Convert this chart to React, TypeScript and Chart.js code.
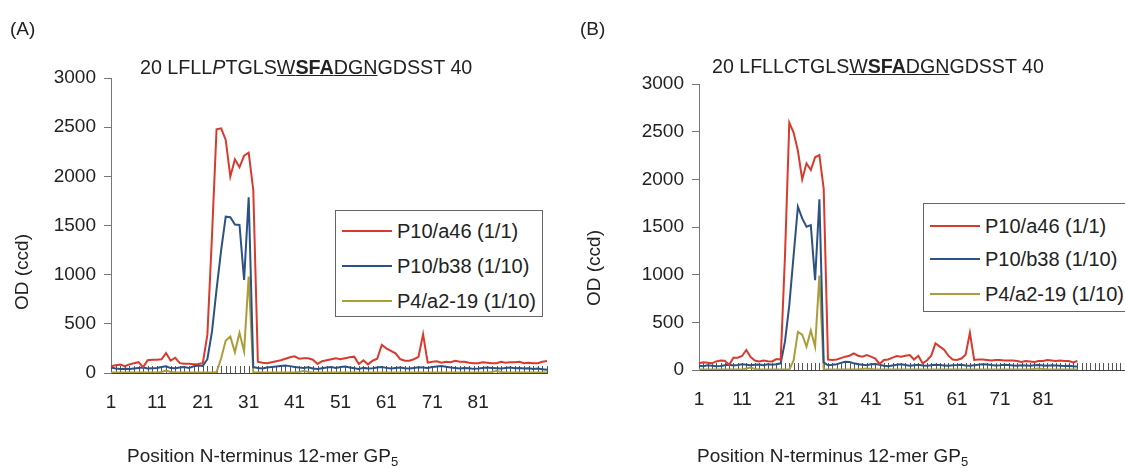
import React, { useEffect, useRef } from 'react';
import { Chart, registerables } from 'chart.js';

Chart.register(...registerables);

const FONT = '"Liberation Sans", Arial, Helvetica, sans-serif';

const seriesNames = ['P10/a46 (1/1)', 'P10/b38 (1/10)', 'P4/a2-19 (1/10)'];
const seriesColors = ['#d83a2d', '#2c5284', '#ab9e3a'];
const tickLabels = ['1', '11', '21', '31', '41', '51', '61', '71', '81'];
const yMin = 0;
const yMax = 3000;
const yStep = 500;

// Peptide positions (panel A: 96 peptides, panel B axis: 101 positions)
const positionsA = Array.from({ length: 96 }, (_, i) => String(i + 1));
const positionsB = Array.from({ length: 101 }, (_, i) => String(i + 1));

const redA = [
  68, 78, 85, 70, 88, 100, 110, 60, 130, 135,
  135, 140, 203, 125, 155, 100, 95, 95, 88, 92,
  100, 390, 1390, 2478, 2488, 2370, 1997, 2173, 2092, 2210,
  2240, 1861, 115, 105, 100, 110, 120, 130, 145, 160,
  170, 145, 150, 150, 135, 92, 120, 130, 140, 150,
  140, 150, 160, 166, 92, 130, 88, 125, 145, 285,
  250, 225, 200, 142, 125, 125, 140, 165, 393, 105,
  115, 120, 105, 115, 110, 125, 115, 115, 105, 98,
  100, 110, 105, 100, 100, 115, 105, 110, 110, 115,
  100, 105, 100, 100, 115, 122,
];
const blueA = [
  55, 45, 40, 42, 40, 45, 50, 55, 45, 48,
  52, 62, 68, 50, 48, 55, 60, 50, 68, 75,
  72, 140, 420, 850, 1250, 1590, 1585, 1510, 1505, 946,
  1787, 60, 50, 45, 55, 60, 65, 70, 75, 70,
  62, 55, 50, 58, 45, 40, 48, 55, 60, 52,
  60, 66, 55, 48, 40, 52, 45, 48, 55, 60,
  52, 45, 50, 55, 48, 45, 52, 58, 55, 50,
  60, 66, 72, 64, 55, 50, 45, 52, 48, 42,
  45, 50, 55, 52, 48, 45, 50, 55, 48, 52,
  45, 48, 40, 45, 38, 32,
];
const oliveA = [
  5, 5, 5, 5, 5, 5, 5, 5, 5, 5,
  5, 10, 25, 10, 5, 5, 5, 5, 5, 5,
  5, 5, 5, 10, 150, 330, 370, 210, 410, 220,
  980, 5, 5, 5, 5, 5, 5, 5, 5, 5,
  5, 10, 20, 10, 5, 5, 5, 5, 5, 5,
  5, 5, 5, 5, 5, 5, 5, 5, 5, 5,
  5, 5, 5, 5, 5, 5, 5, 5, 5, 5,
  5, 5, 5, 5, 5, 5, 5, 5, 5, 5,
  5, 5, 5, 10, 20, 10, 5, 5, 5, 5,
  5, 5, 5, 5, 5, 5,
];

const redB = [
  70, 80, 75, 70, 90, 100, 98, 52, 129, 129,
  147, 210, 135, 100, 90, 100, 92, 90, 115, 110,
  1200, 2594, 2490, 2300, 2000, 2168, 2098, 2231, 2255, 1900,
  110, 105, 110, 125, 140, 150, 175, 150, 140, 157,
  140, 120, 63, 105, 110, 130, 147, 140, 150, 157,
  110, 150, 70, 100, 150, 280, 245, 213, 150, 110,
  105, 120, 160, 391, 105, 110, 110, 105, 100, 105,
  105, 100, 100, 100, 95, 85, 95, 90, 85, 95,
  95, 105, 100, 95, 100, 95, 95, 80, 95,
];
const blueB = [
  45, 40, 50, 45, 40, 42, 50, 55, 48, 52,
  60, 55, 50, 55, 58, 50, 60, 55, 60, 70,
  300, 680, 1200, 1713, 1590, 1503, 1520, 942, 1790, 80,
  50, 55, 60, 75, 87, 85, 70, 60, 55, 50,
  60, 62, 55, 45, 40, 48, 55, 60, 52, 45,
  50, 55, 48, 45, 50, 55, 52, 48, 45, 50,
  52, 55, 48, 45, 50, 55, 60, 58, 52, 48,
  50, 55, 52, 48, 45, 50, 48, 45, 50, 52,
  48, 45, 50, 48, 45, 42, 45, 40, 38,
];
const oliveB = [
  5, 5, 5, 5, 5, 5, 5, 5, 5, 5,
  5, 15, 25, 10, 5, 5, 5, 5, 5, 5,
  5, 5, 100, 400, 370, 245, 415, 245, 990, 5,
  5, 5, 5, 5, 5, 5, 5, 5, 10, 15,
  10, 5, 5, 5, 5, 5, 5, 5, 5, 5,
  5, 5, 5, 5, 5, 5, 5, 5, 5, 5,
  5, 5, 5, 5, 5, 5, 5, 5, 5, 5,
  5, 5, 5, 5, 5, 5, 5, 5, 10, 15,
  10, 5, 5, 5, 5, 5, 5, 5, 5,
];

const innerTicks = {
  id: 'innerTicks',
  beforeDatasetsDraw(chart: any) {
    const xs = chart.scales.x;
    const ctx = chart.ctx;
    const bottom = chart.chartArea.bottom;
    ctx.save();
    ctx.strokeStyle = '#555';
    ctx.lineWidth = 1;
    ctx.beginPath();
    for (let i = 0; i < xs.ticks.length; i++) {
      const px = Math.round(xs.getPixelForTick(i)) + 0.5;
      ctx.moveTo(px, bottom);
      ctx.lineTo(px, bottom - 7);
    }
    ctx.stroke();
    ctx.restore();
  },
};

function makeConfig(labels: string[], red: number[], blue: number[], olive: number[], padding: any): any {
  const series = [red, blue, olive];
  return {
    type: 'line',
    data: {
      labels,
      datasets: series.map((d, i) => ({
        label: seriesNames[i],
        data: d,
        borderColor: seriesColors[i],
        backgroundColor: seriesColors[i],
        borderWidth: 2,
        pointRadius: 0,
        tension: 0,
        fill: false,
      })),
    },
    options: {
      responsive: false,
      animation: false,
      layout: { padding },
      plugins: { legend: { display: false }, tooltip: { enabled: false } },
      scales: {
        x: {
          type: 'category',
          offset: false,
          grid: { display: false, drawTicks: false },
          border: { display: true, color: '#444', width: 1 },
          ticks: {
            autoSkip: false,
            maxRotation: 0,
            minRotation: 0,
            padding: 18,
            color: '#222',
            font: { family: FONT, size: 19 },
            callback: (_v: any, i: number) => (tickLabels.includes(labels[i]) ? labels[i] : ''),
          },
          afterFit: (s: any) => {
            s.height = 40;
          },
        },
        y: {
          min: yMin,
          max: yMax,
          grid: { display: true, drawOnChartArea: false, drawTicks: true, tickLength: 7, color: '#777' },
          border: { display: true, color: '#777', width: 1 },
          ticks: {
            stepSize: yStep,
            padding: 8,
            color: '#222',
            font: { family: FONT, size: 19 },
            callback: (v: any) => String(v),
          },
          afterFit: (s: any) => {
            s.width = 60;
          },
        },
      },
    },
    plugins: [innerTicks],
  };
}

function LineChart(props: { left: number; width: number; labels: string[]; red: number[]; blue: number[]; olive: number[]; padding: any }) {
  const ref = useRef<HTMLCanvasElement>(null);
  useEffect(() => {
    const chart = new Chart(ref.current as HTMLCanvasElement, makeConfig(props.labels, props.red, props.blue, props.olive, props.padding));
    return () => chart.destroy();
  }, []);
  return (
    <canvas
      ref={ref}
      width={props.width}
      height={468}
      style={{ position: 'absolute', left: props.left, top: 0, width: props.width, height: 468 }}
    />
  );
}

function Legend(props: { left: number; top: number; width: number; height: number; rows: number[] }) {
  return (
    <div
      style={{
        position: 'absolute',
        left: props.left,
        top: props.top,
        width: props.width,
        height: props.height,
        border: '1px solid #666',
        background: '#fff',
        boxSizing: 'border-box',
      }}
    >
      {seriesNames.map((n, i) => (
        <React.Fragment key={n}>
          <div
            style={{
              position: 'absolute',
              left: 6,
              top: props.rows[i] - 1,
              width: 50,
              height: 2,
              background: seriesColors[i],
            }}
          />
          <div
            style={{
              position: 'absolute',
              left: 61,
              top: props.rows[i] - 10,
              fontSize: 20,
              lineHeight: 1,
              whiteSpace: 'nowrap',
            }}
          >
            {n}
          </div>
        </React.Fragment>
      ))}
    </div>
  );
}

const textBase: React.CSSProperties = {
  position: 'absolute',
  fontSize: 19,
  lineHeight: 1,
  whiteSpace: 'nowrap',
};

function YTitle(props: { cx: number; cy: number }) {
  return (
    <div
      style={{
        ...textBase,
        left: props.cx,
        top: props.cy,
        transform: 'translate(-50%, -50%) rotate(-90deg)',
      }}
    >
      OD (ccd)
    </div>
  );
}

function XTitle(props: { left: number; top: number }) {
  return (
    <div style={{ ...textBase, left: props.left, top: props.top }}>
      Position N-terminus 12-mer GP<sub style={{ fontSize: 13, verticalAlign: -4 }}>5</sub>
    </div>
  );
}

export default function App() {
  return (
    <div
      style={{
        position: 'fixed',
        left: 0,
        top: 0,
        width: 1125,
        height: 468,
        overflow: 'hidden',
        background: '#fff',
        fontFamily: FONT,
        color: '#222',
      }}
    >
      <LineChart left={0} width={565} labels={positionsA} red={redA} blue={blueA} olive={oliveA} padding={{ left: 51, right: 12, top: 78, bottom: 55 }} />
      <LineChart left={565} width={600} labels={positionsB} red={redB} blue={blueB} olive={oliveB} padding={{ left: 74, right: 36, top: 84, bottom: 58 }} />

      <div style={{ ...textBase, left: 10, top: 19 }}>(A)</div>
      <div style={{ ...textBase, left: 580, top: 19 }}>(B)</div>

      <div style={{ ...textBase, left: 140, top: 58, fontSize: 19.7 }}>
        20 LFLL<i>P</i>TGLS<u>W<b>SFA</b>DGN</u>GDSST 40
      </div>
      <div style={{ ...textBase, left: 712, top: 57, fontSize: 19.6 }}>
        20 LFLL<i>C</i>TGLS<u>W<b>SFA</b>DGN</u>GDSST 40
      </div>

      <YTitle cx={21} cy={272} />
      <YTitle cx={593} cy={268} />

      <XTitle left={127} top={446} />
      <XTitle left={697} top={446} />

      <Legend left={335} top={210} width={208} height={107} rows={[20, 55, 90]} />
      <Legend left={923} top={203} width={230} height={109} rows={[22, 55, 90]} />
    </div>
  );
}
